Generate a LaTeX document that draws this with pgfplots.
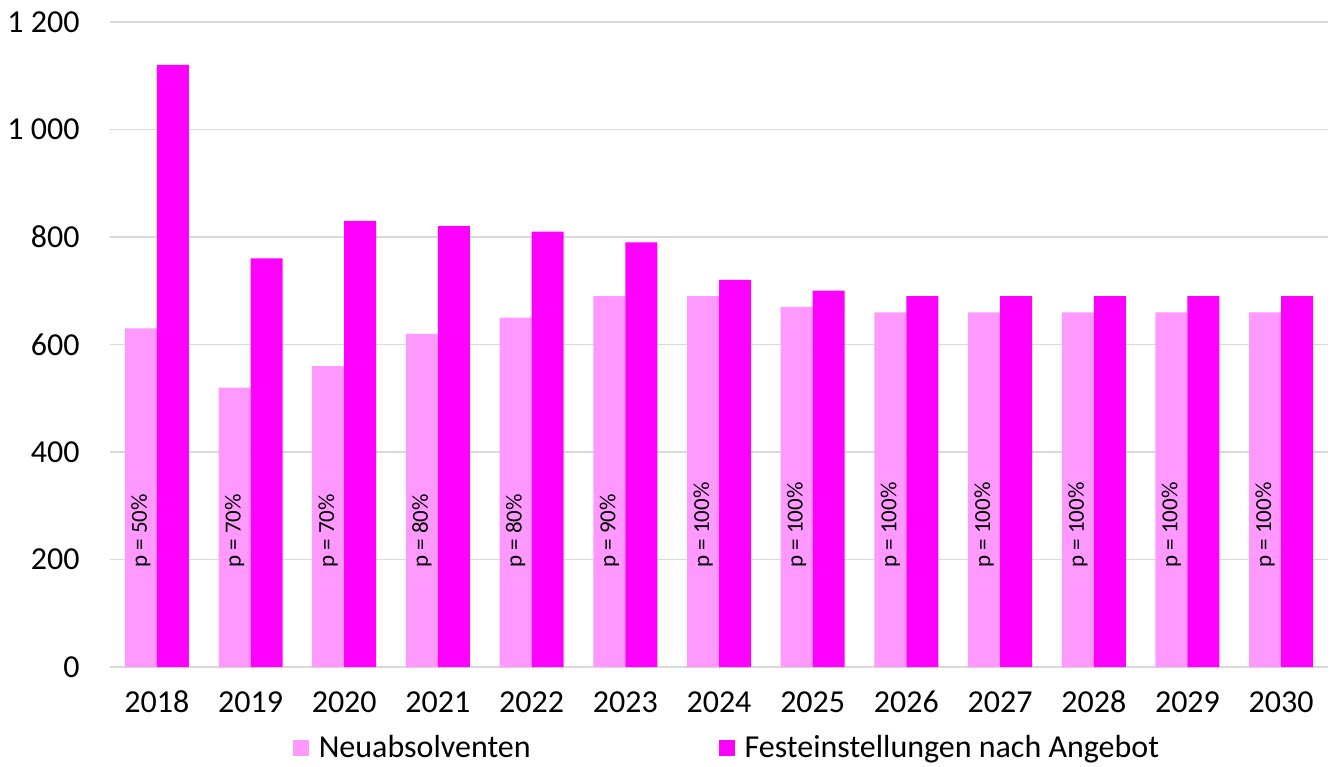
\documentclass[border=0pt]{standalone}
\usepackage{fontspec}
\setmainfont{Carlito}
\usepackage{pgfplots}
\pgfplotsset{compat=1.18}

\definecolor{neu}{HTML}{FF99FF}
\definecolor{fest}{HTML}{FF00FF}
\definecolor{gridgray}{HTML}{D9D9D9}

\begin{document}
\begin{tikzpicture}
\begin{axis}[
    name=ax,
    scale only axis,
    width=609pt, height=322.5pt,
    xmin=-0.5, xmax=12.5,
    ymin=0, ymax=1200,
    ytick={0,200,...,1200},
    xtick={0,...,12},
    xticklabels={2018,2019,2020,2021,2022,2023,2024,2025,2026,2027,2028,2029,2030},
    axis x line*=bottom,
    axis y line*=left,
    y axis line style={draw=none},
    x axis line style={draw=gridgray, line width=1pt, -},
    major tick length=0pt,
    ymajorgrids,
    grid style={draw=gridgray, line width=0.75pt},
    /pgf/number format/1000 sep={\ },
    /pgf/number format/assume math mode=true,
    scaled y ticks=false,
    tick label style={font=\fontsize{16}{19}\selectfont},
    yticklabel style={anchor=east, inner sep=0pt, xshift=-15pt},
    xticklabel style={anchor=base, inner sep=0pt, yshift=-22.5pt},
    legend style={at={(0.5057,-0.1255)}, anchor=center, draw=none, fill=none,
        inner sep=0pt, legend columns=2,
        font=\fontsize{16}{19}\selectfont,
        nodes={inner sep=0pt},
        /tikz/every odd column/.style={column sep=5pt},
        /tikz/column 2/.style={column sep=94pt}},
    legend image code/.code={\fill[#1] (0pt,-4pt) rectangle (8pt,4pt);},
]
\addplot[ybar, bar width=16pt, bar shift=-8pt, fill=neu, draw=none] coordinates {
    (0,630) (1,520) (2,560) (3,620) (4,650) (5,690) (6,690)
    (7,670) (8,660) (9,660) (10,660) (11,660) (12,660)
};
\addlegendentry{Neuabsolventen}
\addplot[ybar, bar width=16pt, bar shift=8pt, fill=fest, draw=none] coordinates {
    (0,1120) (1,760) (2,830) (3,820) (4,810) (5,790) (6,720)
    (7,700) (8,690) (9,690) (10,690) (11,690) (12,690)
};
\addlegendentry{Festeinstellungen nach Angebot}
\addplot[draw=none, mark=none, forget plot,
    nodes near coords, point meta=explicit symbolic,
    every node near coord/.style={xshift=-8pt, rotate=90, anchor=west,
        inner sep=0pt, text=black, font=\fontsize{11.5}{13}\selectfont}]
    coordinates {
    (0,184)[p = 50\%] (1,184)[p = 70\%] (2,184)[p = 70\%] (3,184)[p = 80\%]
    (4,184)[p = 80\%] (5,184)[p = 90\%] (6,184)[p = 100\%] (7,184)[p = 100\%]
    (8,184)[p = 100\%] (9,184)[p = 100\%] (10,184)[p = 100\%] (11,184)[p = 100\%]
    (12,184)[p = 100\%]
};
\end{axis}
\pgfresetboundingbox
\path ([xshift=-55pt,yshift=-49.5pt]ax.south west) rectangle ([xshift=3.5pt,yshift=11pt]ax.north east);
\end{tikzpicture}
\end{document}
